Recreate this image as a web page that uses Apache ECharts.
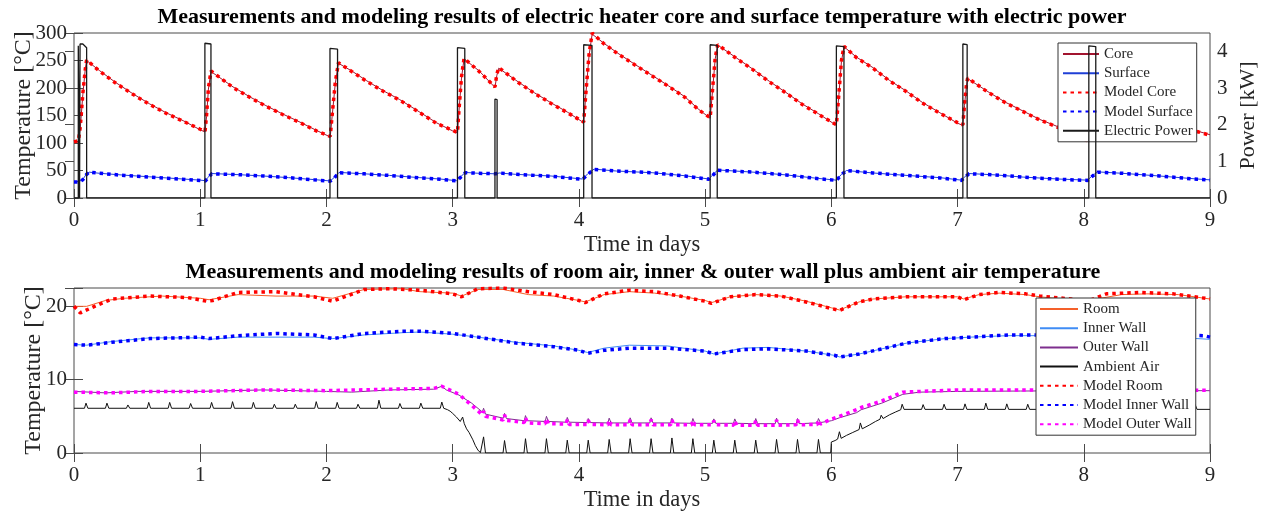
<!DOCTYPE html>
<html>
<head>
<meta charset="utf-8">
<script src="https://cdn.jsdelivr.net/npm/echarts@6/dist/echarts.min.js"></script>
<style>html,body{margin:0;padding:0;background:#fff;}#c{width:1265px;height:512px;}</style>
</head>
<body>
<div id="c"></div>
<script>
// ---------- data (time in days) ----------
const xTicks = [0,1,2,3,4,5,6,7,8,9];
const topTitle = 'Measurements and modeling results of electric heater core and surface temperature with electric power';
const bottomTitle = 'Measurements and modeling results of room air, inner & outer wall plus ambient air temperature';

const coreModel = [[0,102],[0.035,104],[0.05,130],[0.07,190],[0.09,235],[0.1,251],
[0.2,231],[0.33,209],[0.47,188],[0.6,170],[0.73,154],[0.87,139],[1.0,125],[1.038,121],
[1.05,150],[1.065,200],[1.085,231],
[1.26,201],[1.4,182],[1.52,167],[1.66,151],[1.79,137],[1.92,122],[2.03,112],
[2.045,150],[2.07,210],[2.095,246],
[2.2,230],[2.32,212],[2.45,194],[2.58,178],[2.74,155],[2.87,136],[3.0,123],[3.038,119],
[3.05,160],[3.07,220],[3.09,254],
[3.21,230],[3.335,202],[3.35,225],[3.365,237],
[3.52,210],[3.65,190],[3.78,172],[3.91,155],[4.038,138],
[4.055,190],[4.08,260],[4.105,300],
[4.2,280],[4.31,262],[4.45,241],[4.58,222],[4.71,203],[4.84,183],[4.95,160],[5.04,146],
[5.06,200],[5.08,255],[5.1,279],
[5.24,255],[5.38,233],[5.51,211],[5.64,191],[5.77,170],[5.9,152],[6.04,133],
[6.06,190],[6.08,250],[6.1,276],
[6.2,255],[6.33,236],[6.46,213],[6.59,194],[6.72,173],[6.86,154],[7.0,137],[7.042,133],
[7.055,170],[7.07,205],[7.08,218],
[7.25,191],[7.38,173],[7.52,157],[7.65,142],[7.78,130],[7.9,118],[8.04,103],
[8.06,150],[8.08,190],[8.1,205],
[8.3,183],[8.5,160],[8.7,139],[8.91,120],[9.0,114]];

const coreMeas = [[0,101],[0.035,103],[0.05,128],[0.07,188],[0.09,236],[0.1,250],
[0.2,232],[0.33,210],[0.47,189],[0.6,171],[0.73,155],[0.87,140],[1.0,124],[1.038,120],
[1.05,148],[1.065,198],[1.085,230],
[1.26,202],[1.4,183],[1.52,168],[1.66,152],[1.79,138],[1.92,123],[2.03,111],
[2.045,148],[2.07,208],[2.095,245],
[2.2,231],[2.32,213],[2.45,195],[2.58,179],[2.74,156],[2.87,137],[3.0,122],[3.038,118],
[3.05,158],[3.07,218],[3.09,253],
[3.21,231],[3.335,201],[3.35,223],[3.365,236],
[3.52,211],[3.65,191],[3.78,173],[3.91,156],[4.038,137],
[4.055,188],[4.08,258],[4.105,298],
[4.2,281],[4.31,263],[4.45,242],[4.58,223],[4.71,204],[4.84,184],[4.95,161],[5.04,145],
[5.06,198],[5.08,253],[5.1,278],
[5.24,256],[5.38,234],[5.51,212],[5.64,192],[5.77,171],[5.9,153],[6.04,132],
[6.06,188],[6.08,248],[6.1,275],
[6.2,256],[6.33,237],[6.46,214],[6.59,195],[6.72,174],[6.86,155],[7.0,136],[7.042,132],
[7.055,168],[7.07,203],[7.08,217],
[7.25,192],[7.38,174],[7.52,158],[7.65,143],[7.78,131],[7.9,119],[8.04,102],
[8.06,148],[8.08,188],[8.1,204],
[8.3,184],[8.5,161],[8.7,140],[8.91,121],[9.0,115]];

const surfModel = [[0,29],[0.04,29],[0.07,33],[0.1,43],[0.12,47],[0.2,45],[0.4,41],[0.6,38],[0.8,35],[1.0,32],[1.04,31],
[1.06,36],[1.09,44],[1.3,42.5],[1.5,40],[1.7,37],[1.9,33],[2.03,30.5],[2.06,36],[2.1,46],[2.3,44],[2.5,41],[2.74,36.5],
[2.9,34],[3.03,31],[3.06,37],[3.1,46],[3.2,45],[3.34,44],[3.37,45.5],[3.5,43],[3.78,39.5],[4.03,34],[4.07,43],[4.12,52],
[4.3,49],[4.58,46],[4.84,40],[5.03,34],[5.06,41],[5.1,50.5],[5.38,47],[5.64,42],[5.9,35],[6.04,32],[6.08,42],[6.12,50],
[6.33,45.5],[6.6,41],[6.86,36.5],[7.03,32],[7.06,38],[7.09,44],[7.3,42],[7.52,38],[7.8,34],[8.03,32],[8.07,40],[8.11,47],
[8.3,45],[8.6,40],[8.9,34],[9.0,32.5]];

const surfMeas = [[0,30],[0.04,30],[0.07,34],[0.1,44],[0.12,47],[0.2,45],[0.4,41.5],[0.6,38.5],[0.8,35.5],[1.0,32.5],[1.04,31.5],
[1.06,37],[1.09,44.5],[1.3,42.5],[1.5,40],[1.7,37],[1.9,33.5],[2.03,31],[2.06,37],[2.1,46.5],[2.3,44],[2.5,41],[2.74,37],
[2.9,34.5],[3.03,31.5],[3.06,38],[3.1,46.5],[3.2,45],[3.34,44],[3.37,45.5],[3.5,43],[3.78,40],[4.03,34.5],[4.07,44],[4.12,52.5],
[4.3,49],[4.58,46],[4.84,40.5],[5.03,34.5],[5.06,42],[5.1,51],[5.38,47],[5.64,42],[5.9,35.5],[6.04,32.5],[6.08,43],[6.12,50],
[6.33,45.5],[6.6,41],[6.86,37],[7.03,32.5],[7.06,39],[7.09,44.5],[7.3,42],[7.52,38],[7.8,34.5],[8.03,32.5],[8.07,41],[8.11,47.5],
[8.3,45],[8.6,40],[8.9,34.5],[9.0,33]];

const powerData = [[0,0],[0.034,0],[0.034,4.15],[0.044,4.15],[0.044,0],[0.048,0],[0.048,4.2],[0.07,4.2],[0.085,4.15],[0.1,4.1],[0.1,0],
[1.037,0],[1.037,4.22],[1.085,4.2],[1.085,0],
[2.028,0],[2.028,4.08],[2.088,4.06],[2.088,0],
[3.038,0],[3.038,4.1],[3.096,4.08],[3.096,0],
[3.335,0],[3.335,2.7],[3.352,2.68],[3.352,0],
[4.038,0],[4.038,4.18],[4.104,4.16],[4.104,0],
[5.04,0],[5.04,4.18],[5.096,4.16],[5.096,0],
[6.04,0],[6.04,4.15],[6.1,4.13],[6.1,0],
[7.042,0],[7.042,4.2],[7.076,4.18],[7.076,0],
[8.04,0],[8.04,4.15],[8.095,4.13],[8.095,0],[9,0]];

const roomMeas = [[0,20.0],[0.1,20.0],[0.25,20.8],[0.4,21.1],[0.7,21.4],[1.0,21.1],[1.07,20.9],[1.3,21.6],[1.6,21.4],[1.9,21.4],
[2.05,21.1],[2.3,22.3],[2.6,22.4],[2.74,22.0],[3.0,21.8],[3.07,21.4],[3.2,22.3],[3.4,22.3],[3.6,21.6],[3.8,21.4],[4.0,20.8],
[4.05,20.6],[4.2,21.6],[4.4,22.0],[4.6,21.8],[4.8,21.4],[5.0,20.8],[5.05,20.5],[5.2,21.3],[5.4,21.6],[5.6,21.4],[5.8,20.7],
[6.0,19.8],[6.065,19.5],[6.22,20.6],[6.33,21.0],[6.59,21.3],[7.0,21.3],[7.05,21.0],[7.17,21.6],[7.33,21.8],[7.54,21.6],
[7.65,21.3],[7.9,20.9],[8.0,20.6],[8.1,21.0],[8.3,21.6],[8.5,21.7],[8.75,21.6],[9.0,21.0]];

const roomModel = [[0,20.0],[0.05,19.1],[0.15,19.9],[0.3,21.0],[0.6,21.4],[0.9,21.2],[1.05,20.7],[1.1,20.8],[1.3,21.9],[1.6,22.0],
[1.9,21.3],[2.05,20.7],[2.3,22.3],[2.5,22.4],[2.74,22.2],[3.0,21.7],[3.07,21.3],[3.2,22.4],[3.4,22.5],[3.6,22.0],[3.8,21.6],
[4.0,20.8],[4.05,20.5],[4.2,21.7],[4.4,22.2],[4.6,22.0],[4.8,21.4],[5.0,20.7],[5.05,20.4],[5.2,21.3],[5.4,21.6],[5.6,21.4],
[5.8,20.6],[6.0,19.7],[6.065,19.45],[6.22,20.6],[6.33,21.0],[6.59,21.3],[7.0,21.3],[7.05,20.9],[7.17,21.6],[7.33,21.9],
[7.54,21.7],[7.65,21.4],[7.9,21.0],[8.03,20.7],[8.18,21.7],[8.45,21.9],[8.71,21.7],[9.0,21.0]];

const innerMeas = [[0,14.8],[0.1,14.7],[0.3,15.2],[0.6,15.7],[1.0,15.7],[1.07,15.5],[1.3,15.8],[1.6,15.8],[1.9,15.8],[2.05,15.6],
[2.3,16.1],[2.6,16.4],[2.74,16.5],[3.0,16.2],[3.2,15.8],[3.5,15.1],[3.8,14.6],[4.0,14.0],[4.07,13.7],[4.2,14.3],[4.4,14.7],
[4.7,14.6],[5.0,13.9],[5.07,13.5],[5.3,14.3],[5.5,14.4],[5.8,13.9],[6.03,13.3],[6.065,13.1],[6.22,13.5],[6.4,14.2],[6.6,15.0],
[6.9,15.6],[7.1,15.8],[7.4,16.0],[7.7,16.0],[8.0,15.7],[8.3,15.9],[8.6,15.9],[9.0,15.5]];

const innerModel = [[0,14.8],[0.1,14.7],[0.3,15.1],[0.6,15.6],[1.0,15.8],[1.07,15.6],[1.3,16.0],[1.6,16.3],[1.9,16.1],[2.05,15.6],
[2.3,16.3],[2.6,16.6],[2.74,16.6],[3.0,16.3],[3.2,15.8],[3.5,15.0],[3.8,14.5],[4.0,14.0],[4.07,13.6],[4.2,14.0],[4.4,14.3],
[4.7,14.3],[5.0,13.9],[5.07,13.5],[5.3,14.1],[5.5,14.2],[5.8,13.9],[6.03,13.3],[6.065,13.1],[6.22,13.5],[6.4,14.2],[6.6,15.0],
[6.9,15.6],[7.1,15.8],[7.4,16.1],[7.7,16.1],[8.0,15.9],[8.3,16.1],[8.6,16.2],[8.95,16.0],[9.0,15.8]];

const outerMeas = [[0,8.4],[0.25,8.2],[0.5,8.4],[1.0,8.4],[1.5,8.6],[2.0,8.4],[2.2,8.3],[2.5,8.6],[2.85,8.7],[2.914,9.1],[2.95,8.6],
[3.05,7.9],[3.15,6.8],[3.235,5.6],[3.245,6.1],[3.26,5.3],[3.40,4.75],[3.411,5.4],[3.426,4.7],[3.567,4.4],[3.577,5.1],[3.592,4.4],
[3.733,4.3],[3.743,5.0],[3.758,4.3],[3.898,4.2],[3.908,4.85],[3.923,4.2],[4.064,4.15],[4.074,4.7],[4.089,4.15],
[4.23,4.1],[4.24,4.75],[4.255,4.1],[4.396,4.1],[4.406,4.8],[4.421,4.1],[4.562,4.1],[4.572,4.8],[4.587,4.1],
[4.727,4.1],[4.737,4.75],[4.752,4.1],[4.893,4.05],[4.903,4.7],[4.918,4.05],[5.059,4.05],[5.069,4.65],[5.084,4.05],
[5.225,4.05],[5.235,4.65],[5.25,4.05],[5.391,4.0],[5.401,4.7],[5.416,4.0],[5.556,4.0],[5.566,4.75],[5.581,4.0],
[5.722,4.0],[5.732,4.7],[5.747,4.0],[5.888,4.1],[5.898,4.7],[5.913,4.15],[6.0,4.4],[6.064,4.8],[6.2,5.5],[6.236,5.9],
[6.4,6.8],[6.566,8.0],[6.7,8.3],[7.0,8.4],[7.5,8.45],[8.0,8.5],[8.5,8.5],[9.0,8.5]];

const outerModel = [[0,8.3],[0.3,8.2],[0.6,8.4],[1.0,8.4],[1.5,8.6],[2.0,8.5],[2.5,8.7],[2.85,8.8],[2.914,9.1],[2.95,8.8],
[3.05,8.0],[3.15,6.5],[3.235,5.2],[3.245,5.7],[3.26,5.0],[3.40,4.5],[3.411,5.2],[3.426,4.45],[3.567,4.15],[3.577,4.8],[3.592,4.1],
[3.733,4.0],[3.743,4.7],[3.758,4.0],[3.898,3.95],[3.908,4.55],[3.923,3.9],[4.064,3.9],[4.074,4.45],[4.089,3.9],
[4.23,3.85],[4.24,4.5],[4.255,3.85],[4.396,3.85],[4.406,4.55],[4.421,3.85],[4.562,3.85],[4.572,4.55],[4.587,3.85],
[4.727,3.85],[4.737,4.5],[4.752,3.85],[4.893,3.85],[4.903,4.45],[4.918,3.85],[5.059,3.85],[5.069,4.4],[5.084,3.85],
[5.225,3.8],[5.235,4.4],[5.25,3.8],[5.391,3.8],[5.401,4.45],[5.416,3.8],[5.556,3.8],[5.566,4.5],[5.581,3.8],
[5.722,3.85],[5.732,4.5],[5.747,3.85],[5.888,3.9],[5.898,4.5],[5.913,3.95],[6.0,4.6],[6.064,5.0],[6.2,5.9],[6.236,6.2],
[6.4,7.1],[6.566,8.3],[7.0,8.6],[7.5,8.6],[8.0,8.6],[8.5,8.6],[9.0,8.55]];

const ambient = [[0,6.1],
[0.083,6.1],[0.095,6.8],[0.11,6.1],[0.249,6.1],[0.261,6.8],[0.276,6.1],[0.415,6.1],[0.427,6.55],[0.442,6.1],
[0.58,6.1],[0.592,6.9],[0.607,6.1],[0.746,6.1],[0.758,6.9],[0.773,6.1],[0.912,6.1],[0.924,6.75],[0.939,6.1],
[1.078,6.1],[1.09,6.9],[1.105,6.1],[1.244,6.1],[1.256,7.0],[1.271,6.1],[1.409,6.1],[1.421,6.9],[1.436,6.1],
[1.575,6.1],[1.587,6.65],[1.602,6.1],[1.741,6.1],[1.753,6.65],[1.768,6.1],[1.907,6.1],[1.919,7.0],[1.934,6.1],
[2.073,6.1],[2.085,6.9],[2.1,6.1],[2.238,6.1],[2.25,6.65],[2.265,6.1],[2.404,6.1],[2.416,7.2],[2.431,6.1],
[2.57,6.1],[2.582,6.75],[2.597,6.1],[2.736,6.1],[2.748,6.8],[2.763,6.1],[2.902,6.1],[2.914,6.95],[2.929,6.1],
[2.96,5.9],[2.98,5.7],[3.0,5.4],[3.03,4.9],[3.06,4.3],[3.07,4.2],[3.079,4.9],[3.092,4.0],[3.11,3.3],[3.13,2.8],
[3.16,1.8],[3.18,1.0],[3.2,0.4],[3.22,0.05],[3.233,0],
[3.245,2.2],[3.26,0],[3.399,0],[3.411,1.7],[3.426,0],[3.565,0],[3.577,1.95],[3.592,0],[3.731,0],[3.743,1.95],[3.758,0],
[3.896,0],[3.908,1.75],[3.923,0],[4.062,0],[4.074,1.75],[4.089,0],[4.228,0],[4.24,1.85],[4.255,0],[4.394,0],[4.406,1.95],[4.421,0],
[4.56,0],[4.572,1.95],[4.587,0],[4.725,0],[4.737,2.05],[4.752,0],[4.891,0],[4.903,1.95],[4.918,0],[5.057,0],[5.069,1.75],[5.084,0],
[5.223,0],[5.235,1.75],[5.25,0],[5.389,0],[5.401,1.75],[5.416,0],[5.554,0],[5.566,1.85],[5.581,0],[5.72,0],[5.732,1.85],[5.747,0],
[5.886,0],[5.898,1.85],[5.913,0],[5.995,0],[6.0,1.5],[6.03,1.7],[6.05,1.9],[6.064,2.9],[6.078,2.0],[6.12,2.4],[6.17,2.8],
[6.22,3.2],[6.23,4.1],[6.245,3.3],[6.3,3.8],[6.35,4.3],[6.385,4.6],[6.395,5.15],[6.41,4.7],[6.46,5.2],[6.51,5.6],[6.55,5.9],
[6.561,6.65],[6.576,5.95],[6.715,5.95],[6.727,6.6],[6.742,5.95],[6.881,5.95],[6.893,6.65],[6.908,5.95],[7.047,5.95],[7.059,6.7],[7.074,5.95],
[7.212,5.95],[7.224,6.8],[7.239,5.95],[7.378,5.95],[7.39,6.7],[7.405,5.95],[7.544,5.95],[7.556,6.65],[7.571,5.95],
[7.71,5.95],[7.722,6.7],[7.737,5.95],[7.876,5.95],[7.888,6.65],[7.903,5.95],[8.041,5.95],[8.053,6.7],[8.068,5.95],
[8.207,5.95],[8.219,6.65],[8.234,5.95],[8.373,5.95],[8.385,6.7],[8.4,5.95],[8.539,5.95],[8.551,6.6],[8.566,5.95],
[8.705,5.95],[8.717,6.7],[8.732,5.95],[8.87,5.95],[8.882,6.65],[8.897,5.95],[9.0,5.95]];

// ---------- styling ----------
const FF = 'Liberation Serif';
const TXT = '#262626';
const FRAME = '#4a4a4a';
const DOT = [3.5, 4];

function xAx(grid) {
  return {
    type: 'value', gridIndex: grid, min: 0, max: 9, interval: 1, position: 'bottom',
    axisLine: {show: false}, splitLine: {show: false},
    axisTick: {show: true, inside: true, length: 9, lineStyle: {color: FRAME}},
    axisLabel: {show: true, margin: 12, color: TXT, fontFamily: FF, fontSize: 21,
      formatter: v => xTicks.indexOf(v) >= 0 ? String(v) : ''},
    name: 'Time in days', nameLocation: 'middle', nameGap: 36, nameMoveOverlap: false,
    nameTextStyle: {fontFamily: FF, fontSize: 22.5, color: TXT}
  };
}
function xMirror(grid) {
  return {type: 'value', gridIndex: grid, min: 0, max: 9, interval: 1, position: 'top',
    axisLine: {show: false}, splitLine: {show: false}, axisLabel: {show: false},
    axisTick: {show: true, inside: true, length: 9, lineStyle: {color: FRAME}}};
}
function ln(name, data, color, width, dotted, xi, yi, z) {
  return {type: 'line', name: name, data: data, xAxisIndex: xi, yAxisIndex: yi,
    showSymbol: false, symbol: 'none', animation: false, z: z || 2,
    lineStyle: {color: color, width: width, type: dotted ? DOT : 'solid', cap: 'butt'},
    itemStyle: {color: color}};
}

const legendCommon = {
  orient: 'vertical', itemWidth: 36, itemHeight: 14, itemGap: 3.2, selectedMode: false,
  backgroundColor: '#fff', borderColor: '#333', borderWidth: 1,
  itemStyle: {opacity: 0},
  textStyle: {fontFamily: FF, fontSize: 15, lineHeight: 16, color: TXT}
};

const option = {
  backgroundColor: '#fff',
  animation: false,
  title: [
    {text: topTitle, left: 642, top: 6, textAlign: 'center', padding: 0,
      textStyle: {fontFamily: FF, fontSize: 22, fontWeight: 'bold', color: '#000'}},
    {text: bottomTitle, left: 643, top: 261, textAlign: 'center', padding: 0,
      textStyle: {fontFamily: FF, fontSize: 22, fontWeight: 'bold', color: '#000'}}
  ],
  grid: [
    {left: 74, right: 55, top: 33, height: 165, show: true, borderColor: FRAME, borderWidth: 1,
      backgroundColor: 'transparent', containLabel: false, outerBoundsMode: 'none'},
    {left: 74, right: 55, top: 288, height: 165, show: true, borderColor: FRAME, borderWidth: 1,
      backgroundColor: 'transparent', containLabel: false, outerBoundsMode: 'none'}
  ],
  xAxis: [xAx(0), xMirror(0), xAx(1), xMirror(1)],
  yAxis: [
    {type: 'value', gridIndex: 0, min: 0, max: 300, interval: 50, position: 'left',
      axisLine: {show: false}, splitLine: {show: false},
      axisTick: {show: true, inside: true, length: 9, lineStyle: {color: FRAME}},
      axisLabel: {margin: 7, color: TXT, fontFamily: FF, fontSize: 21},
      name: 'Temperature [°C]', nameLocation: 'middle', nameGap: 38, nameRotate: 90, nameMoveOverlap: false,
      nameTextStyle: {fontFamily: FF, fontSize: 24, color: TXT}},
    {type: 'value', gridIndex: 0, min: 0, max: 4.5, interval: 1, position: 'right',
      axisLine: {show: false}, splitLine: {show: false},
      axisTick: {show: true, inside: true, length: 9, lineStyle: {color: FRAME}},
      axisLabel: {margin: 7, color: TXT, fontFamily: FF, fontSize: 21,
        formatter: v => Number.isInteger(v) ? String(v) : ''},
      name: 'Power [kW]', nameLocation: 'middle', nameGap: 27, nameRotate: 90, nameMoveOverlap: false,
      nameTextStyle: {fontFamily: FF, fontSize: 22, color: TXT}},
    {type: 'value', gridIndex: 1, min: 0, max: 22.5, interval: 10, position: 'left',
      axisLine: {show: false}, splitLine: {show: false},
      axisTick: {show: true, inside: true, length: 9, lineStyle: {color: FRAME}},
      axisLabel: {margin: 7, color: TXT, fontFamily: FF, fontSize: 21,
        formatter: v => (v % 10 === 0) ? String(v) : ''},
      name: 'Temperature [°C]', nameLocation: 'middle', nameGap: 28, nameRotate: 90, nameMoveOverlap: false,
      nameTextStyle: {fontFamily: FF, fontSize: 24, color: TXT}},
    {type: 'value', gridIndex: 1, min: 0, max: 22.5, interval: 10, position: 'right',
      axisLine: {show: false}, splitLine: {show: false}, axisLabel: {show: false},
      axisTick: {show: true, inside: true, length: 9, lineStyle: {color: FRAME}}}
  ],
  legend: [
    Object.assign({}, legendCommon, {left: 1058, top: 43, padding: [3, 4, 3, 4],
      data: ['Core', 'Surface', 'Model Core', 'Model Surface', 'Electric Power']}),
    Object.assign({}, legendCommon, {left: 1036, top: 298, padding: [3, 4, 3, 3], itemWidth: 38,
      data: ['Room', 'Inner Wall', 'Outer Wall', 'Ambient Air', 'Model Room', 'Model Inner Wall', 'Model Outer Wall']})
  ],
  series: [
    ln('Core', coreMeas, '#a2142f', 1, false, 0, 0, 2),
    ln('Surface', surfMeas, '#1f3fd6', 1, false, 0, 0, 2),
    ln('Model Core', coreModel, '#ff0000', 3.5, true, 0, 0, 3),
    ln('Model Surface', surfModel, '#0000ff', 3.5, true, 0, 0, 3),
    ln('Electric Power', powerData, '#1a1a1a', 1.3, false, 0, 1, 4),
    ln('Room', roomMeas, '#f4602a', 1, false, 2, 2, 2),
    ln('Inner Wall', innerMeas, '#3f8cf5', 1, false, 2, 2, 2),
    ln('Outer Wall', outerMeas, '#7e2f8e', 1, false, 2, 2, 2),
    ln('Ambient Air', ambient, '#111111', 1, false, 2, 2, 2),
    ln('Model Room', roomModel, '#ff0000', 3.5, true, 2, 2, 3),
    ln('Model Inner Wall', innerModel, '#0000ff', 3.5, true, 2, 2, 3),
    ln('Model Outer Wall', outerModel, '#ff00ff', 3.5, true, 2, 2, 3)
  ]
};

const chart = echarts.init(document.getElementById('c'), null, {renderer: 'canvas'});
chart.setOption(option);
</script>
</body>
</html>
